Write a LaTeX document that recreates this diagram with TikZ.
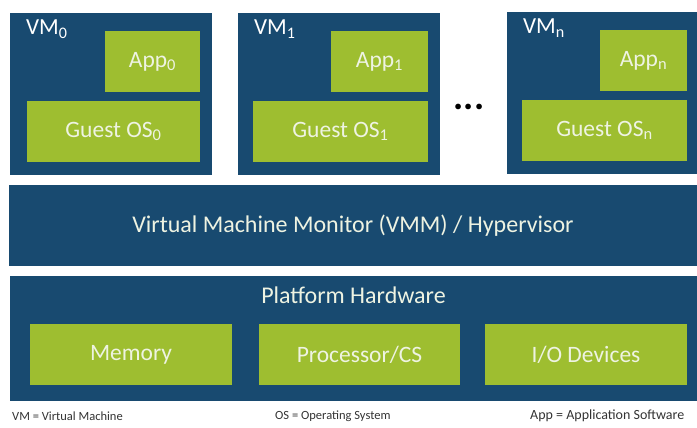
\documentclass[tikz,border=0pt]{standalone}
\usepackage{fontspec}
\setmainfont{Carlito}
\usetikzlibrary{positioning}
\definecolor{vmblue}{HTML}{184A70}
\definecolor{vmgreen}{HTML}{9EBE30}
\definecolor{vmtext}{HTML}{EEF3E2}
\definecolor{notegray}{HTML}{333333}

\begin{document}
\begin{tikzpicture}[
  x=1pt,y=-1pt,
  layer/.style={fill=vmblue,anchor=north west,inner sep=0pt,outer sep=0pt,text=vmtext,font=\fontsize{24}{26}\selectfont},
  part/.style={fill=vmgreen,anchor=north west,inner sep=0pt,outer sep=0pt,text=vmtext,font=\fontsize{23.5}{26}\selectfont},
  vmlabel/.style={inner sep=0pt,text=white,font=\fontsize{23}{26}\selectfont},
  note/.style={inner sep=0pt,anchor=west,text=notegray,font=\fontsize{12.5}{14}\selectfont}
]
\useasboundingbox (0,0) rectangle (697,428);
% guest machines
\node[layer,minimum width=202pt,minimum height=162pt] (vm0) at (10,13) {};
\node[layer,minimum width=202pt,minimum height=162pt] (vm1) at (238,13) {};
\node[layer,minimum width=190pt,minimum height=162pt] (vmn) at (507,12) {};
\node[part,minimum width=95pt,minimum height=61pt] (app0) at (105,31) {App\textsubscript{0}};
\node[part,minimum width=173pt,minimum height=61pt] (os0) at (27,101) {Guest OS\textsubscript{0}};
\node[part,minimum width=97pt,minimum height=61pt] (app1) at (331,31) {App\textsubscript{1}};
\node[part,minimum width=175pt,minimum height=61pt] (os1) at (253,101) {Guest OS\textsubscript{1}};
\node[part,minimum width=87pt,minimum height=61pt] (appn) at (600,30) {App\textsubscript{n}};
\node[part,minimum width=165pt,minimum height=61pt] (osn) at (522,100) {Guest OS\textsubscript{n}};
\foreach \v/\i in {vm0/0,vm1/1,vmn/n}
  \node[vmlabel,below right=7pt and 16pt of \v.north west] (\v-lab) {VM\textsubscript{\i}};
\node[font=\fontsize{38}{38}\selectfont\bfseries,inner sep=0pt] (dots) at (469,107) {...};
% hypervisor and hardware
\node[layer,minimum width=688pt,minimum height=81pt] (vmm) at (9,185) {Virtual Machine Monitor (VMM) / Hypervisor};
\node[layer,minimum width=687pt,minimum height=125pt] (hw) at (10,276) {};
\node[layer,fill=none,below=11pt of hw.north] (hw-lab) {Platform Hardware};
\node[part,minimum width=202pt,minimum height=61pt] (mem) at (30,324) {Memory};
\node[part,minimum width=201pt,minimum height=61pt] (cpu) at (259,324) {Processor/CS};
\node[part,minimum width=202pt,minimum height=61pt] (io) at (485,324) {I/O Devices};
% legend
\node[note] (n-vm) at (12,416) {VM = Virtual Machine};
\node[note] (n-os) at (275,416) {OS = Operating System};
\node[note,font=\fontsize{14}{16}\selectfont] (n-app) at (530,416) {App = Application Software};
\end{tikzpicture}
\end{document}
